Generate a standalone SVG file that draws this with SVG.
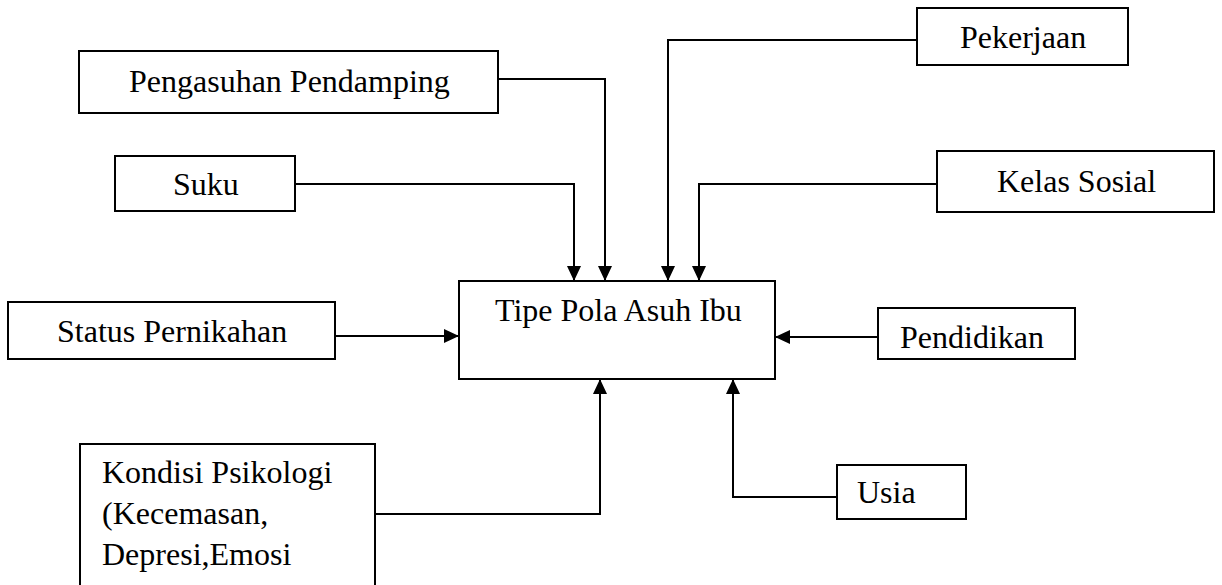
<svg xmlns="http://www.w3.org/2000/svg" width="1222" height="585" viewBox="0 0 1222 585">
<style>
.box{fill:#fff;stroke:#000;stroke-width:2}
.lbl{font-family:'Liberation Serif','Times New Roman',Times,'DejaVu Serif',serif;font-size:32px;fill:#000}
.conn{fill:none;stroke:#000;stroke-width:2}
</style>
<defs>
<marker id="arr" viewBox="0 0 15 14" refX="15" refY="7" markerWidth="15" markerHeight="14" markerUnits="userSpaceOnUse" orient="auto">
<path d="M0,0 L15,7 L0,14 Z" fill="#000"/>
</marker>
</defs>
<rect width="1222" height="585" fill="#fff"/>
<g id="connectors">
<path class="conn" d="M498,79 H605 V281" marker-end="url(#arr)"/>
<path class="conn" d="M295,184 H574 V281" marker-end="url(#arr)"/>
<path class="conn" d="M917,40 H668 V281" marker-end="url(#arr)"/>
<path class="conn" d="M937,184 H699 V281" marker-end="url(#arr)"/>
<path class="conn" d="M335,336 H459" marker-end="url(#arr)"/>
<path class="conn" d="M878,337 H775" marker-end="url(#arr)"/>
<path class="conn" d="M375,514 H600 V379" marker-end="url(#arr)"/>
<path class="conn" d="M837,497 H733 V379" marker-end="url(#arr)"/>
</g>
<g id="pengasuhan"><rect class="box" x="79" y="51" width="419" height="62"/><text class="lbl" font-family="Liberation Serif" x="129" y="92">Pengasuhan Pendamping</text></g>
<g id="suku"><rect class="box" x="115" y="156" width="180" height="55"/><text class="lbl" x="173" y="195">Suku</text></g>
<g id="status"><rect class="box" x="8" y="302" width="327" height="57"/><text class="lbl" x="57" y="342">Status Pernikahan</text></g>
<g id="tipe"><rect class="box" x="459" y="281" width="316" height="98"/><text class="lbl" x="495" y="321">Tipe Pola Asuh Ibu</text></g>
<g id="pekerjaan"><rect class="box" x="917" y="8" width="211" height="57"/><text class="lbl" x="960" y="48">Pekerjaan</text></g>
<g id="kelas"><rect class="box" x="937" y="151" width="277" height="61"/><text class="lbl" x="997" y="192">Kelas Sosial</text></g>
<g id="pendidikan"><rect class="box" x="878" y="308" width="197" height="51"/><text class="lbl" x="900" y="348">Pendidikan</text></g>
<g id="usia"><rect class="box" x="837" y="465" width="129" height="54"/><text class="lbl" x="857" y="503">Usia</text></g>
<g id="kondisi"><rect class="box" x="80" y="444" width="295" height="150"/><text class="lbl" x="102" y="483">Kondisi Psikologi</text><text class="lbl" x="102" y="524">(Kecemasan,</text><text class="lbl" x="102" y="565">Depresi,Emosi</text></g>
</svg>
